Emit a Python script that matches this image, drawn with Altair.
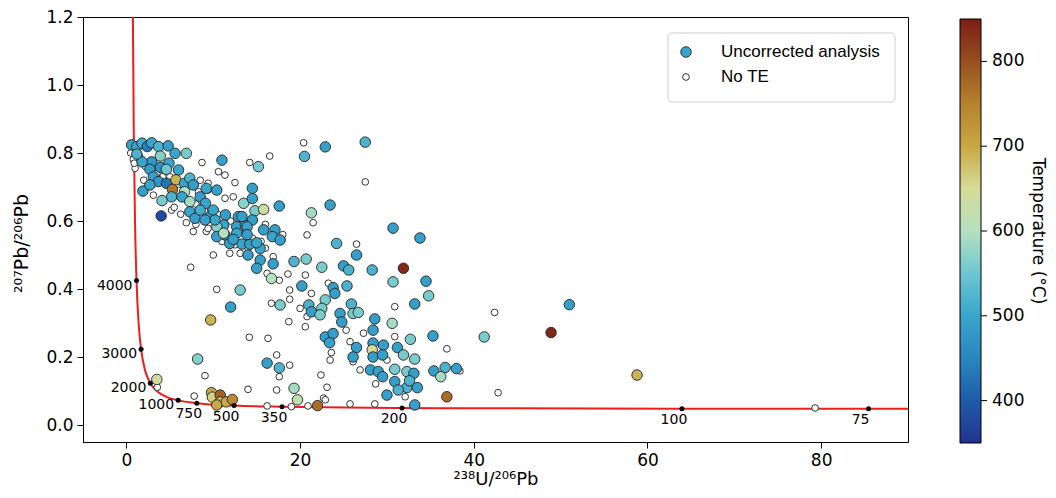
import altair as alt
import pandas as pd

# ---------------- data ----------------
# Uncorrected analyses (238U/206Pb, 207Pb/206Pb, temperature in °C)
unc_x = [0.6, 1.2, 1.8, 2.4, 2.9, 3.7, 4.8, 5.6, 6.9, 3.9, 2.9, 1.8, 1.2, 2.7, 3.9, 4.9, 4.6, 6.0,
         3.1, 3.7, 4.6, 5.7, 5.3, 1.9, 2.7, 6.7, 7.3, 7.7, 6.7, 6.4, 5.2, 4.1, 4.0, 7.3, 8.5, 9.2,
         10.4, 9.1, 7.3, 7.9, 8.5, 9.6, 10.0, 11.4, 11.2, 10.4, 12.9, 12.7, 13.7, 13.5, 11.0, 15.2,
         14.5, 14.5, 14.8, 15.8, 17.6, 13.3, 14.5, 15.8, 17.1, 13.9, 12.7, 11.35, 10.4, 11.9, 13.3,
         14.2, 15.4, 16.8, 17.7, 10.2, 9.05, 11.2, 12.3, 15.0, 14.0, 15.4, 15.0, 16.9, 19.3, 20.7,
         22.5, 25.0, 25.6, 24.2, 26.5, 16.7, 20.2, 23.8, 22.9, 25.4, 24.0, 21.0, 22.5, 24.6, 24.8,
         21.3, 25.9, 26.1, 22.9, 23.8, 13.1, 12.0, 9.7, 17.7, 22.9, 27.5, 20.5, 23.45, 21.3, 30.7,
         33.8, 28.3, 31.9, 30.7, 34.5, 34.8, 33.2, 22.3, 26.7, 28.6, 30.6, 28.4, 23.4, 26.5, 28.4,
         28.3, 29.6, 28.4, 29.5, 26.1, 31.2, 32.7, 31.9, 33.2, 35.3, 28.1, 29.0, 29.5, 30.9, 32.3,
         33.1, 35.4, 36.7, 38.0, 36.2, 30.9, 32.3, 33.5, 32.6, 30.0, 31.3, 33.2, 36.9, 41.2, 16.2,
         17.6, 19.3, 19.7, 22.0, 51.0, 48.9, 58.8, 8.2, 3.5, 9.8, 9.9, 10.8, 10.8, 10.4, 11.5, 12.2,
         13.9]
unc_y = [0.824, 0.819, 0.829, 0.819, 0.830, 0.819, 0.821, 0.799, 0.799, 0.791, 0.774, 0.774, 0.797,
         0.752, 0.758, 0.770, 0.752, 0.750, 0.730, 0.716, 0.711, 0.721, 0.693, 0.688, 0.706, 0.711,
         0.726, 0.706, 0.686, 0.671, 0.671, 0.660, 0.615, 0.657, 0.671, 0.696, 0.691, 0.652, 0.627,
         0.608, 0.632, 0.613, 0.632, 0.618, 0.588, 0.583, 0.613, 0.583, 0.588, 0.652, 0.779, 0.760,
         0.696, 0.666, 0.630, 0.634, 0.644, 0.613, 0.603, 0.574, 0.574, 0.583, 0.564, 0.559, 0.554,
         0.534, 0.532, 0.532, 0.519, 0.554, 0.544, 0.603, 0.603, 0.564, 0.546, 0.536, 0.500, 0.485,
         0.461, 0.474, 0.481, 0.488, 0.464, 0.468, 0.456, 0.534, 0.500, 0.431, 0.409, 0.404, 0.368,
         0.409, 0.387, 0.353, 0.343, 0.328, 0.303, 0.333, 0.356, 0.328, 0.259, 0.269, 0.397, 0.347,
         0.309, 0.353, 0.818, 0.832, 0.790, 0.647, 0.624, 0.579, 0.550, 0.456, 0.461, 0.421, 0.423,
         0.380, 0.356, 0.324, 0.331, 0.312, 0.299, 0.279, 0.242, 0.228, 0.241, 0.221, 0.235, 0.200,
         0.206, 0.200, 0.228, 0.252, 0.206, 0.194, 0.262, 0.162, 0.157, 0.142, 0.164, 0.157, 0.152,
         0.159, 0.169, 0.166, 0.142, 0.128, 0.110, 0.110, 0.130, 0.088, 0.103, 0.059, 0.083, 0.259,
         0.182, 0.168, 0.108, 0.074, 0.057, 0.354, 0.272, 0.147, 0.194, 0.134, 0.095, 0.082, 0.088,
         0.068, 0.059, 0.068, 0.075, 0.560]
unc_t = [490, 500, 510, 440, 500, 520, 490, 500, 560, 570, 480, 500, 520, 490, 470, 500, 550, 500,
         490, 480, 430, 690, 760, 490, 500, 500, 520, 490, 600, 500, 520, 560, 380, 590, 490, 500,
         490, 500, 500, 490, 510, 490, 500, 490, 500, 570, 490, 500, 490, 570, 490, 555,
         490, 490, 560, 640, 490, 490, 490, 490, 490, 500, 500, 490, 490, 490, 500,
         490, 500, 500, 490, 500, 490, 600, 490, 500, 490, 490, 490, 490, 520, 560,
         560, 490, 520, 520, 490, 600, 490, 490, 560, 520, 490, 520, 560, 490, 490,
         490, 520, 560, 490, 490, 560, 490, 690, 560, 490, 520, 520, 490, 590, 490,
         490, 520, 840, 560, 490, 560, 490, 560, 560, 490, 590, 490, 490, 490, 490,
         650, 490, 490, 490, 490, 490, 560, 560, 560, 490, 490, 490, 490, 560, 560,
         490, 490, 520, 490, 590, 490, 520, 490, 520, 490, 520, 490, 770, 560, 490,
         520, 590, 620, 770, 490, 840, 690, 570, 640, 700, 660, 780, 690, 700, 700, 740,
         490]

# Analyses without trace-element data ("No TE")
note_x = [1.0, 3.1, 6.9, 6.25, 8.3, 9.4, 12.3, 10.0, 11.9, 16.9, 9.2, 5.2, 0.8, 16.5, 14.2, 8.7,
          10.6, 11.35, 12.5, 1.8, 8.5, 9.4, 7.7, 9.4, 11.35, 10.4, 21.5, 20.8, 26.5, 18.6, 20.6,
          18.8, 16.7, 17.6, 13.1, 21.3, 20.0, 23.25, 20.6, 20.8, 30.9, 27.3, 25.75, 23.6, 26.1,
          30.0, 26.9, 36.9, 23.1, 22.7, 25.75, 28.6, 30.9, 16.2, 18.7, 16.3, 17.3, 18.8, 17.6,
          17.3, 22.9, 16.2, 19.0, 20.9, 23.5, 25.3, 42.4, 42.8, 32.1, 28.7, 22.4, 23.45, 7.4,
          14.15, 9.05, 3.56, 7.8, 14.0, 18.8, 38.4, 79.3, 20.4, 27.5, 0.5, 1.5, 2.2, 3.5, 4.2,
          5.0, 6.0, 7.0, 8.0, 9.0, 10.5, 12.0, 13.0, 14.5, 15.5, 12.5, 16.0, 18.0, 0.9, 2.0, 5.5,
          8.0, 11.0, 14.0, 16.0]
note_y = [0.755, 0.676, 0.595, 0.620, 0.686, 0.711, 0.671, 0.500, 0.505, 0.495, 0.569, 0.632,
          0.781, 0.791, 0.772, 0.772, 0.745, 0.735, 0.713, 0.833, 0.720, 0.691, 0.569, 0.578,
          0.667, 0.399, 0.595, 0.559, 0.532, 0.444, 0.441, 0.370, 0.358, 0.426, 0.505, 0.387,
          0.343, 0.417, 0.289, 0.319, 0.348, 0.270, 0.245, 0.213, 0.186, 0.191, 0.162, 0.224,
          0.111, 0.079, 0.062, 0.062, 0.260, 0.446, 0.304, 0.255, 0.206, 0.176, 0.142, 0.103,
          0.074, 0.056, 0.054, 0.056, 0.250, 0.279, 0.331, 0.095, 0.083, 0.121, 0.147, 0.191,
          0.464, 0.258, 0.145, 0.111, 0.085, 0.105, 0.397, 0.159, 0.050, 0.830, 0.715, 0.800,
          0.790, 0.760, 0.740, 0.730, 0.730, 0.690, 0.660, 0.650, 0.630, 0.620, 0.600, 0.570,
          0.550, 0.540, 0.530, 0.590, 0.560, 0.770, 0.720, 0.640, 0.590, 0.540, 0.520, 0.520]

# Concordia curve
conc_x = [0.742, 0.853, 0.990, 1.163, 1.267, 1.387, 1.525, 1.688, 2.111, 2.394, 2.749, 3.206,
          3.817, 4.673, 5.959, 8.105, 12.40, 17.92, 25.29, 31.74, 42.48, 63.97, 85.46, 90.29]
conc_y = [1.207, 0.846, 0.597, 0.425, 0.360, 0.306, 0.261, 0.223, 0.164, 0.142, 0.123, 0.107,
          0.0936, 0.0822, 0.0725, 0.0643, 0.0572, 0.0535, 0.0512, 0.0501, 0.0491, 0.0480,
          0.0475, 0.0475]

# Age markers on the concordia (Ma)
age_vals = [4000, 3000, 2000, 1000, 750, 500, 350, 200, 100, 75]
age_x = [1.163, 1.688, 2.749, 5.959, 8.105, 12.40, 17.92, 31.74, 63.97, 85.46]
age_y = [0.425, 0.223, 0.123, 0.0725, 0.0643, 0.0572, 0.0535, 0.0501, 0.0480, 0.0475]

x_ticks = [0, 20, 40, 60, 80]
y_ticks = [0.0, 0.2, 0.4, 0.6, 0.8, 1.0, 1.2]
temp_ticks = [400, 500, 600, 700, 800]
temp_range = [350, 850]

# colour map (blue -> cyan -> pale -> gold -> dark red)
temp_dom = [350, 400, 450, 500, 550, 600, 650, 700, 750, 800, 850]
temp_cols = ["#22338f", "#1f5ca8", "#2a86be", "#3aa5cc", "#6ec6d2", "#b5e0c0",
             "#d6dc98", "#c9a844", "#b5822e", "#974f20", "#7d1d16"]

# ---------------- chart ----------------
CB_X, CB_Y, CB_LEN, CB_W = 877, 2, 424, 21

xs = alt.Scale(domain=[-5, 90], nice=False, zero=False)
ys = alt.Scale(domain=[-0.05, 1.2], nice=False, zero=False)

unc = pd.DataFrame({"x": unc_x, "y": unc_y, "T": unc_t})
note = pd.DataFrame({"x": note_x, "y": note_y})
conc = pd.DataFrame({"x": conc_x, "y": conc_y})
ages = pd.DataFrame({"x": age_x, "y": age_y, "age": age_vals})
cticks = pd.DataFrame({"T": temp_ticks})
one = pd.DataFrame({"k": [0]})

line = alt.Chart(conc).mark_line(color="#ee1c1c", strokeWidth=2, clip=True,
                                 interpolate="monotone").encode(
    x=alt.X("x:Q", scale=xs,
            axis=alt.Axis(title="²³⁸U/²⁰⁶Pb", values=x_ticks, format="d")),
    y=alt.Y("y:Q", scale=ys,
            axis=alt.Axis(title="²⁰⁷Pb/²⁰⁶Pb", values=y_ticks, format=".1f",
                          titleY=226)),
)

white = alt.Chart(note).mark_circle(size=45, fill="white", stroke="#333333",
                                    strokeWidth=1, fillOpacity=1, strokeOpacity=1).encode(
    x=alt.X("x:Q", scale=xs), y=alt.Y("y:Q", scale=ys))

colored = alt.Chart(unc).mark_circle(size=110, stroke="#222222", strokeWidth=0.9,
                                     fillOpacity=1, strokeOpacity=1).encode(
    x=alt.X("x:Q", scale=xs), y=alt.Y("y:Q", scale=ys),
    fill=alt.Fill("T:Q", scale=alt.Scale(domain=temp_dom, range=temp_cols),
                  legend=alt.Legend(title=None, orient="none", legendX=CB_X, legendY=CB_Y,
                                    direction="vertical", gradientLength=CB_LEN,
                                    gradientThickness=CB_W, values=temp_ticks,
                                    labelFont="DejaVu Sans", labelFontSize=17,
                                    labelColor="black", gradientStrokeColor="black",
                                    gradientStrokeWidth=1, labelOffset=11, padding=0)))

agepts = alt.Chart(ages).mark_circle(size=25, color="black", opacity=1).encode(
    x=alt.X("x:Q", scale=xs), y=alt.Y("y:Q", scale=ys))

agelab_big = alt.Chart(ages).transform_filter("datum.age >= 1000").mark_text(
    align="right", baseline="middle", dx=-4, dy=5, fontSize=14, font="DejaVu Sans",
    color="black").encode(x=alt.X("x:Q", scale=xs), y=alt.Y("y:Q", scale=ys),
                          text="age:N")
agelab_small = alt.Chart(ages).transform_filter("datum.age < 1000").mark_text(
    align="center", baseline="middle", dx=-8, dy=11, fontSize=14, font="DejaVu Sans",
    color="black").encode(x=alt.X("x:Q", scale=xs), y=alt.Y("y:Q", scale=ys),
                          text="age:N")

# colour-bar tick marks, placed along the gradient from the temperature values
cbar_ticks = alt.Chart(cticks).transform_calculate(
    py=f"{CB_Y} + {CB_LEN} * ({temp_range[1]} - datum.T) / ({temp_range[1]} - {temp_range[0]})"
).mark_rule(color="black", strokeWidth=1).encode(
    y=alt.Y("py:Q", scale=None), x=alt.value(CB_X + CB_W), x2=alt.value(CB_X + CB_W + 6))

# legend box (drawn as annotation)
leg_box = alt.Chart(one).mark_rect(fill="white", stroke="#cccccc", strokeWidth=1,
                                   cornerRadius=4).encode(
    x=alt.value(585), x2=alt.value(812), y=alt.value(16), y2=alt.value(85))
leg_sym1 = alt.Chart(one).mark_circle(size=110, fill="#3aa5cc", stroke="#222222",
                                      strokeWidth=0.9, fillOpacity=1).encode(
    x=alt.value(603), y=alt.value(35))
leg_sym2 = alt.Chart(one).mark_circle(size=45, fill="white", stroke="#333333",
                                      strokeWidth=1, fillOpacity=1).encode(
    x=alt.value(603), y=alt.value(60))
leg_txt1 = alt.Chart(one).mark_text(align="left", baseline="middle", fontSize=17,
                                    font="Liberation Sans", color="black",
                                    text="Uncorrected analysis").encode(
    x=alt.value(638), y=alt.value(35))
leg_txt2 = alt.Chart(one).mark_text(align="left", baseline="middle", fontSize=17,
                                    font="Liberation Sans", color="black",
                                    text="No TE").encode(
    x=alt.value(638), y=alt.value(60))
cbar_title = alt.Chart(one).mark_text(align="center", baseline="middle", fontSize=17,
                                      font="DejaVu Sans", color="black", angle=90,
                                      text="Temperature (°C)").encode(
    x=alt.value(955), y=alt.value(214))

chart = alt.layer(line, white, colored, agepts, agelab_big, agelab_small, cbar_ticks,
                  leg_box, leg_sym1, leg_sym2, leg_txt1, leg_txt2, cbar_title).properties(
    width=825, height=425,
    autosize=alt.AutoSizeParams(type="none"),
    padding={"left": 75, "top": 9, "right": 140, "bottom": 48},
).configure_view(stroke="black", strokeWidth=1).configure_axis(
    grid=False, domainColor="black", tickColor="black", labelColor="black",
    titleColor="black", labelFont="DejaVu Sans", labelFontSize=17,
    titleFont="DejaVu Sans", titleFontSize=19, titleFontWeight="normal",
    tickSize=6, labelPadding=4, domainWidth=1, tickWidth=1,
).configure_axisY(titlePadding=14).configure_axisX(titlePadding=2, titleFontSize=18)

chart.save("out.html", embed_options={"renderer": "svg", "actions": False})
